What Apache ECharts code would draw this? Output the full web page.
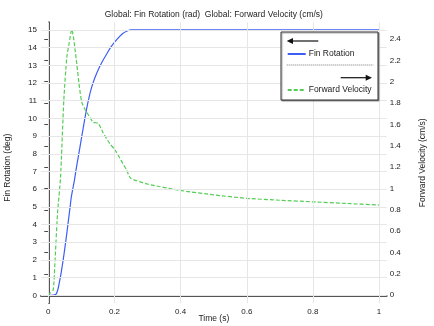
<!DOCTYPE html>
<html>
<head>
<meta charset="utf-8">
<script src="https://cdn.jsdelivr.net/npm/echarts@6/dist/echarts.min.js"></script>
<style>
html,body{margin:0;padding:0;background:#fff;}
#chart{width:434px;height:326px;}
</style>
</head>
<body>
<div id="chart"></div>
<script>
// ---- data ----
const titleText = 'Global: Fin Rotation (rad)  Global: Forward Velocity (cm/s)';
const xName = 'Time (s)';
const leftName = 'Fin Rotation (deg)';
const rightName = 'Forward Velocity (cm/s)';
const seriesNames = ['Fin Rotation', 'Forward Velocity'];

const timeTicks = [0, 0.2, 0.4, 0.6, 0.8, 1];
const degTicks = [0, 1, 2, 3, 4, 5, 6, 7, 8, 9, 10, 11, 12, 13, 14, 15];
const velTicks = [0, 0.2, 0.4, 0.6, 0.8, 1, 1.2, 1.4, 1.6, 1.8, 2, 2.2, 2.4];

const finTime = [0, 0.01, 0.02, 0.025, 0.03, 0.035, 0.04, 0.045, 0.05, 0.056, 0.06, 0.066, 0.07, 0.079, 0.084, 0.09, 0.096, 0.106, 0.116, 0.124, 0.131, 0.14, 0.151, 0.163, 0.177, 0.19, 0.207, 0.225, 0.242, 0.25, 1];
const finRotation = [0, 0, 0.03, 0.11, 0.4, 0.87, 1.4, 2.0, 2.65, 3.5, 4.1, 5.0, 5.6, 6.5, 7.1, 7.75, 8.4, 9.5, 10.55, 11.25, 11.75, 12.25, 12.75, 13.2, 13.65, 14.05, 14.45, 14.8, 14.97, 15.0, 15.0];

const velTime = [0, 0.005, 0.015, 0.02, 0.028, 0.037, 0.047, 0.056, 0.063, 0.071, 0.076, 0.081, 0.086, 0.093, 0.101, 0.111, 0.121, 0.136, 0.151, 0.166, 0.186, 0.202, 0.237, 0.249, 0.302, 0.403, 0.5, 0.6, 0.7, 0.8, 0.9, 1.0];
const forwardVelocity = [0, 0.02, 0.05, 0.3, 0.77, 1.1, 1.83, 2.23, 2.36, 2.49, 2.42, 2.3, 2.17, 1.98, 1.81, 1.74, 1.69, 1.62, 1.61, 1.52, 1.42, 1.36, 1.17, 1.095, 1.04, 0.98, 0.94, 0.908, 0.89, 0.875, 0.86, 0.845];

// ---- chart ----
const FONT = 'Liberation Sans';
const axisColor = '#4a4a4a';
const textColor = '#222';
const gridColor = '#e6e6e6';
const blue = '#3d5ef5';
const green = '#55cc55';

const chart = echarts.init(document.getElementById('chart'), null, {renderer: 'canvas'});

const pairs = (xs, ys) => xs.map((x, i) => [x, ys[i]]);

const legendCommon = {
  itemWidth: 18, itemHeight: 8, itemGap: 3, z: 100, padding: 0,
  itemStyle: {opacity: 0},
  textStyle: {fontFamily: FONT, fontSize: 8.5, color: textColor, padding: [0, 0, 0, -2]}
};

const nameStyle = {fontFamily: FONT, fontSize: 8.5, color: textColor};
const tickFont = {fontFamily: FONT, fontSize: 8, color: textColor};

const option = {
  animation: false,
  backgroundColor: '#fff',
  textStyle: {fontFamily: FONT},
  title: {
    text: titleText,
    left: 104.7,
    top: 10.5,
    padding: 0,
    textStyle: {fontFamily: FONT, fontSize: 8.5, fontWeight: 'normal', color: textColor}
  },
  grid: {left: 41, top: 22.3, right: 47.3, bottom: 22.7, containLabel: false, outerBoundsMode: 'none'},
  legend: [
    Object.assign({data: [seriesNames[0]], left: 286.7, top: 49.5}, legendCommon),
    Object.assign({data: [seriesNames[1]], left: 286.7, top: 85.5}, legendCommon)
  ],
  xAxis: [
    {
      type: 'value', position: 'bottom', min: -0.022, max: 1.023,
      name: xName, nameLocation: 'middle', nameGap: 10.5, nameMoveOverlap: false,
      nameTextStyle: Object.assign({verticalAlign: 'top'}, nameStyle),
      axisLine: {show: true, lineStyle: {color: axisColor, width: 1.5}},
      axisTick: {show: true, inside: true, length: 4, customValues: timeTicks, lineStyle: {color: axisColor}},
      axisLabel: Object.assign({customValues: timeTicks, margin: 4}, tickFont),
      splitLine: {show: false}
    },
    {
      type: 'value', position: 'top', min: -0.022, max: 1.023,
      axisLine: {show: true, lineStyle: {color: axisColor, width: 1.5}},
      axisTick: {show: true, inside: true, length: 4, customValues: timeTicks, lineStyle: {color: axisColor}},
      axisLabel: {show: false},
      splitLine: {show: false}
    }
  ],
  yAxis: [
    {
      type: 'value', position: 'left', min: -0.45, max: 15.43,
      name: leftName, nameLocation: 'middle', nameGap: 29, nameMoveOverlap: false,
      nameTextStyle: Object.assign({padding: [0, 10, 0, 0]}, nameStyle),
      axisLine: {show: true, lineStyle: {color: axisColor, width: 1.5}},
      axisTick: {show: true, inside: true, length: 4, customValues: degTicks, lineStyle: {color: axisColor}},
      axisLabel: Object.assign({customValues: degTicks, margin: 4}, tickFont),
      splitLine: {show: false}
    },
    {
      type: 'value', position: 'right', min: -0.075, max: 2.556,
      name: rightName, nameLocation: 'middle', nameGap: 31, nameMoveOverlap: false,
      nameTextStyle: nameStyle,
      axisLine: {show: true, lineStyle: {color: axisColor, width: 1.5}},
      axisTick: {show: true, inside: true, length: 4, customValues: velTicks, lineStyle: {color: axisColor}},
      axisLabel: Object.assign({customValues: velTicks, margin: 3}, tickFont),
      splitLine: {show: false}
    }
  ],
  series: [
    {
      name: 'grid', type: 'line', xAxisIndex: 0, yAxisIndex: 0, data: [], z: 1, silent: true,
      markLine: {
        silent: true, symbol: 'none', label: {show: false}, animation: false,
        lineStyle: {color: gridColor, width: 1, type: 'solid'},
        emphasis: {disabled: true},
        data: timeTicks.map(v => ({xAxis: v})).concat(degTicks.map(v => ({yAxis: v})))
      }
    },
    {
      name: seriesNames[0], type: 'line', xAxisIndex: 0, yAxisIndex: 0,
      data: pairs(finTime, finRotation),
      symbol: 'none', smooth: 0.3, z: 3,
      lineStyle: {color: blue, width: 1.2},
      itemStyle: {color: blue}
    },
    {
      name: seriesNames[1], type: 'line', xAxisIndex: 0, yAxisIndex: 1,
      data: pairs(velTime, forwardVelocity),
      symbol: 'none', smooth: 0.2, z: 3,
      lineStyle: {color: green, width: 1.2, type: [4, 2]},
      itemStyle: {color: green}
    }
  ],
  graphic: [
    {
      type: 'rect', z: 90,
      shape: {x: 281, y: 32, width: 97, height: 68},
      style: {fill: '#fff', stroke: '#333', lineWidth: 1, shadowColor: 'rgba(0,0,0,0.35)', shadowOffsetX: 1, shadowOffsetY: 1, shadowBlur: 1}
    },
    // left arrow
    {type: 'line', z: 95, shape: {x1: 292, y1: 41, x2: 318.3, y2: 41}, style: {stroke: '#111', lineWidth: 1.2}},
    {type: 'polygon', z: 95, shape: {points: [[286.7, 41], [293, 38], [293, 44]]}, style: {fill: '#111'}},
    // separator
    {type: 'line', z: 95, shape: {x1: 286.7, y1: 65, x2: 373.3, y2: 65}, style: {stroke: '#777', lineWidth: 1, lineDash: [1, 1]}},
    // right arrow
    {type: 'line', z: 95, shape: {x1: 340.7, y1: 77.7, x2: 366.5, y2: 77.7}, style: {stroke: '#111', lineWidth: 1.2}},
    {type: 'polygon', z: 95, shape: {points: [[372, 77.7], [365.7, 74.7], [365.7, 80.7]]}, style: {fill: '#111'}}
  ]
};
chart.setOption(option);
</script>
</body>
</html>
